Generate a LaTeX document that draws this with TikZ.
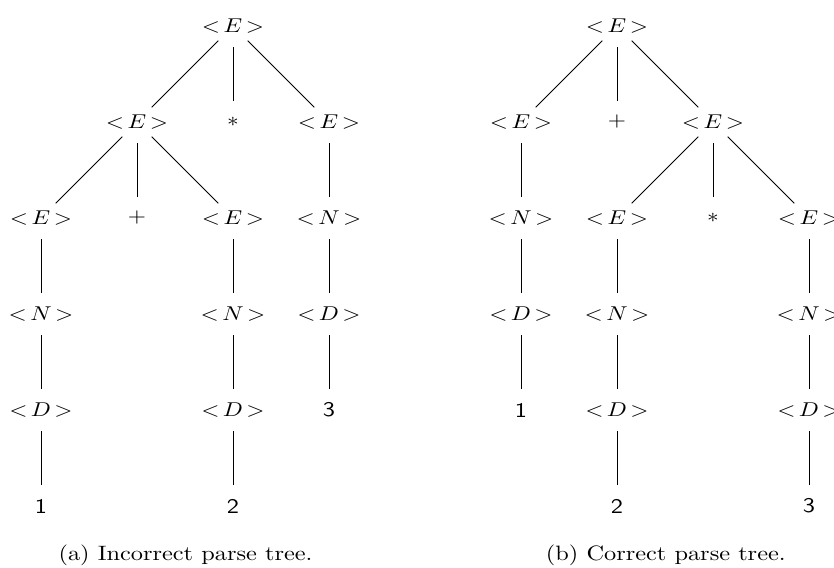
\documentclass[tikz,border=0pt]{standalone}
\usepackage{graphicx}
\usepackage{tikz}
\newcommand{\wx}[1]{\scalebox{1.17}[1]{#1}}
\newcommand{\nt}[1]{\wx{${<}\mkern2.7mu #1\mkern2.7mu{>}$}}
\newcommand{\dg}[1]{\wx{\sffamily #1}}
\begin{document}
\begin{tikzpicture}[x=1pt,y=1pt,
  every node/.style={font=\fontsize{10.4}{12.5}\selectfont},
  sym/.style={inner sep=0pt},
  edge/.style={line width=0.45pt,shorten >=10.4pt,shorten <=10.4pt},
  captext/.style={inner sep=0pt,anchor=base}]
\useasboundingbox (0,0) rectangle (417,283.5);
\clip (0,0) rectangle (417,283.5);
% ---------- (a) incorrect tree ----------
\node[sym] (aR)  at (116.5,270.5) {\nt{E}};
\node[sym] (aE1) at (68.5,222.5) {\nt{E}};
\node[sym] (aSt) at (116.5,222.5) {\wx{$*$}};
\node[sym] (aE2) at (164.5,222.5) {\nt{E}};
\node[sym] (aE3) at (20.5,174.5) {\nt{E}};
\node[sym] (aPl) at (68.5,174.5) {\wx{$+$}};
\node[sym] (aE4) at (116.5,174.5) {\nt{E}};
\node[sym] (aN3) at (164.5,174.5) {\nt{N}};
\node[sym] (aN1) at (20.5,126.5) {\nt{N}};
\node[sym] (aN2) at (116.5,126.5) {\nt{N}};
\node[sym] (aD3) at (164.5,126.5) {\nt{D}};
\node[sym] (aD1) at (20.5,78.5) {\nt{D}};
\node[sym] (aD2) at (116.5,78.5) {\nt{D}};
\node[sym] (a3)  at (164.5,78.5) {\dg{3}};
\node[sym] (a1)  at (20.5,30.5) {\dg{1}};
\node[sym] (a2)  at (116.5,30.5) {\dg{2}};
\foreach \p/\c in {aR/aE1,aR/aSt,aR/aE2,aE1/aE3,aE1/aPl,aE1/aE4,aE2/aN3,
                   aE3/aN1,aE4/aN2,aN3/aD3,aN1/aD1,aN2/aD2,aD3/a3,aD1/a1,aD2/a2}
  \draw[edge] (\p.center) -- (\c.center);
\node[captext] (capa) at (92.75,3.2) {\wx{(a) Incorrect parse tree.}};
% ---------- (b) correct tree ----------
\node[sym] (bR)  at (308.5,270.5) {\nt{E}};
\node[sym] (bE1) at (260.5,222.5) {\nt{E}};
\node[sym] (bPl) at (308.5,222.5) {\wx{$+$}};
\node[sym] (bE2) at (356.5,222.5) {\nt{E}};
\node[sym] (bN1) at (260.5,174.5) {\nt{N}};
\node[sym] (bE3) at (308.5,174.5) {\nt{E}};
\node[sym] (bSt) at (356.5,174.5) {\wx{$*$}};
\node[sym] (bE4) at (404.5,174.5) {\nt{E}};
\node[sym] (bD1) at (260.5,126.5) {\nt{D}};
\node[sym] (bN2) at (308.5,126.5) {\nt{N}};
\node[sym] (bN3) at (404.5,126.5) {\nt{N}};
\node[sym] (b1)  at (260.5,78.5) {\dg{1}};
\node[sym] (bD2) at (308.5,78.5) {\nt{D}};
\node[sym] (bD3) at (404.5,78.5) {\nt{D}};
\node[sym] (b2)  at (308.5,30.5) {\dg{2}};
\node[sym] (b3)  at (404.5,30.5) {\dg{3}};
\foreach \p/\c in {bR/bE1,bR/bPl,bR/bE2,bE1/bN1,bE2/bE3,bE2/bSt,bE2/bE4,
                   bN1/bD1,bE3/bN2,bE4/bN3,bD1/b1,bN2/bD2,bN3/bD3,bD2/b2,bD3/b3}
  \draw[edge] (\p.center) -- (\c.center);
\node[captext] (capb) at (332.9,3.2) {\wx{(b) Correct parse tree.}};
\end{tikzpicture}
\end{document}
